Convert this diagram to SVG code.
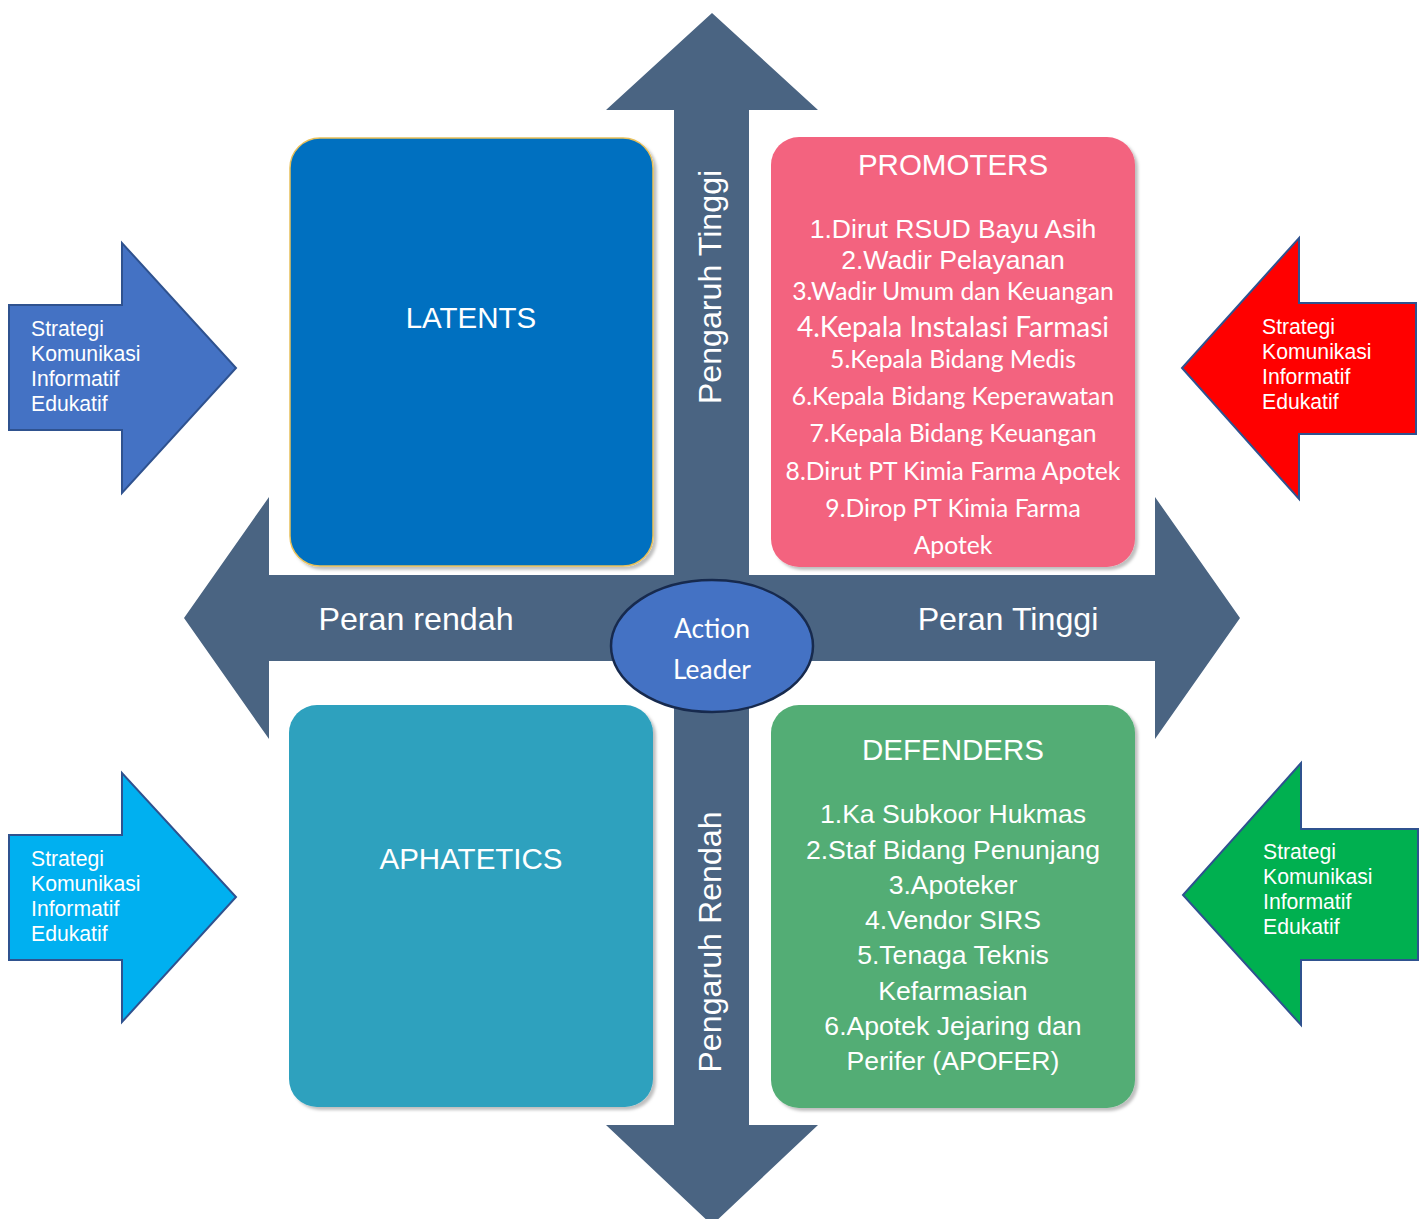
<svg xmlns="http://www.w3.org/2000/svg" width="1426" height="1219" viewBox="0 0 1426 1219">
<defs>
<style>
.sans{font-family:"Liberation Sans",Arial,sans-serif;fill:#fff}
.cal{font-family:Lato,"Open Sans",sans-serif;fill:#fff}
.mid{text-anchor:middle}
.side{font-size:21.2px}
.ttl{font-size:29.5px}
.itm{font-size:26.6px}
.cit{font-size:24.7px}
.axl{font-size:32.2px}
.axis{fill:#4A6482}
.box{filter:url(#sh)}
</style>
<filter id="sh" x="-5%" y="-5%" width="115%" height="115%">
<feDropShadow dx="3" dy="3" stdDeviation="1.5" flood-color="#000" flood-opacity="0.25"/>
</filter>
</defs>
<rect width="1426" height="1219" fill="#fff"/>
<g id="connectors">
<polygon class="axis" points="712,13 818,110 749,110 749,575 1155,575 1155,497 1240,618 1155,739 1155,661 749,661 749,1125 818,1125 712,1225 606,1125 674,1125 674,661 269,661 269,739 184,618 269,497 269,575 674,575 674,110 606,110"/>
</g>
<g id="latents">
<rect class="box" x="290" y="138" width="363" height="428" rx="30" fill="#0070C0" stroke="#E8C05A" stroke-width="1.5"/>
<text class="sans mid ttl" x="471" y="328">LATENTS</text>
</g>
<g id="promoters">
<rect class="box" x="771" y="137" width="364" height="430" rx="28" fill="#F3647F"/>
<text class="sans mid ttl" x="953" y="175">PROMOTERS</text>
<text class="sans mid itm" x="953" y="238">1.Dirut RSUD Bayu Asih</text>
<text class="sans mid itm" x="953" y="269">2.Wadir Pelayanan</text>
<text class="cal mid cit" x="953" y="300">3.Wadir Umum dan Keuangan</text>
<text class="cal mid" x="953" y="337" font-size="28">4.Kepala Instalasi Farmasi</text>
<text class="cal mid cit" x="953" y="368">5.Kepala Bidang Medis</text>
<text class="cal mid cit" x="953" y="405">6.Kepala Bidang Keperawatan</text>
<text class="cal mid cit" x="953" y="442">7.Kepala Bidang Keuangan</text>
<text class="cal mid cit" x="953" y="480">8.Dirut PT Kimia Farma Apotek</text>
<text class="cal mid cit" x="953" y="517">9.Dirop PT Kimia Farma</text>
<text class="cal mid cit" x="953" y="554">Apotek</text>
</g>
<g id="aphatetics">
<rect class="box" x="289" y="705" width="364" height="402" rx="28" fill="#2DA1BE"/>
<text class="sans mid ttl" x="471" y="869">APHATETICS</text>
</g>
<g id="defenders">
<rect class="box" x="771" y="705" width="364" height="403" rx="28" fill="#52AD74"/>
<text class="sans mid ttl" x="953" y="760">DEFENDERS</text>
<text class="sans mid itm" x="953" y="823">1.Ka Subkoor Hukmas</text>
<text class="sans mid itm" x="953" y="859">2.Staf Bidang Penunjang</text>
<text class="sans mid itm" x="953" y="894">3.Apoteker</text>
<text class="sans mid itm" x="953" y="929">4.Vendor SIRS</text>
<text class="sans mid itm" x="953" y="964">5.Tenaga Teknis</text>
<text class="sans mid itm" x="953" y="1000">Kefarmasian</text>
<text class="sans mid itm" x="953" y="1035">6.Apotek Jejaring dan</text>
<text class="sans mid itm" x="953" y="1070">Perifer (APOFER)</text>
</g>
<g id="axis-labels">
<text class="sans mid axl" x="416" y="630">Peran rendah</text>
<text class="sans mid axl" x="1008" y="630">Peran Tinggi</text>
<text class="sans mid axl" transform="translate(721,287) rotate(-90)">Pengaruh Tinggi</text>
<text class="sans mid axl" transform="translate(721,942) rotate(-90)">Pengaruh Rendah</text>
</g>
<g id="action-leader">
<ellipse cx="712" cy="646" rx="101" ry="66" fill="#4472C4" stroke="#172A4E" stroke-width="2.5"/>
<text class="cal mid" x="712" y="638" font-size="26.4">Action</text>
<text class="cal mid" x="712" y="679" font-size="26.4">Leader</text>
</g>
<g id="strategy-top-left">
<polygon points="9,305 122,305 122,243 236,368 122,493 122,430 9,430" fill="#4472C4" stroke="#2F528F" stroke-width="2"/>
<text class="sans side" x="31" y="336">Strategi</text>
<text class="sans side" x="31" y="361">Komunikasi</text>
<text class="sans side" x="31" y="386">Informatif</text>
<text class="sans side" x="31" y="411">Edukatif</text>
</g>
<g id="strategy-bottom-left">
<polygon points="9,835 122,835 122,773 236,897 122,1022 122,960 9,960" fill="#00B0F0" stroke="#2F528F" stroke-width="2"/>
<text class="sans side" x="31" y="866">Strategi</text>
<text class="sans side" x="31" y="891">Komunikasi</text>
<text class="sans side" x="31" y="916">Informatif</text>
<text class="sans side" x="31" y="941">Edukatif</text>
</g>
<g id="strategy-top-right">
<polygon points="1416,303 1299,303 1299,238 1182,368 1299,499 1299,434 1416,434" fill="#FF0000" stroke="#2F528F" stroke-width="2"/>
<text class="sans side" x="1262" y="334">Strategi</text>
<text class="sans side" x="1262" y="359">Komunikasi</text>
<text class="sans side" x="1262" y="384">Informatif</text>
<text class="sans side" x="1262" y="409">Edukatif</text>
</g>
<g id="strategy-bottom-right">
<polygon points="1418,829 1301,829 1301,763 1183,895 1301,1025 1301,960 1418,960" fill="#00B050" stroke="#2F528F" stroke-width="2"/>
<text class="sans side" x="1263" y="859">Strategi</text>
<text class="sans side" x="1263" y="884">Komunikasi</text>
<text class="sans side" x="1263" y="909">Informatif</text>
<text class="sans side" x="1263" y="934">Edukatif</text>
</g>
</svg>
